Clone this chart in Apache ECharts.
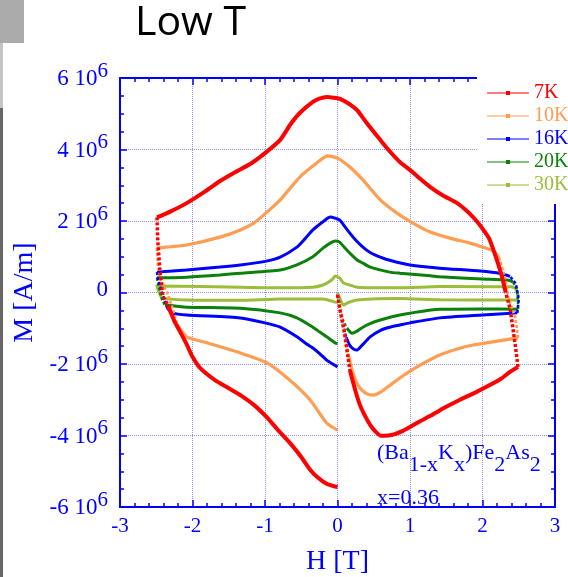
<!DOCTYPE html>
<html><head><meta charset="utf-8">
<script src="https://cdn.jsdelivr.net/npm/echarts@6/dist/echarts.min.js"></script>
<style>html,body{margin:0;padding:0;background:#fff}#c{width:568px;height:577px}</style>
</head><body><div id="c"></div>
<script>
// Field H [T] vs magnetisation M [10^6 A/m]; each loop: virgin 0→+2.5, down to -2.5, back up to 0
const seriesNames = ['7K', '10K', '16K', '20K', '30K'];
const xRange = [-3, 3];
const yRange = [-6, 6]; // units of 10^6 A/m

const m7K = [
[0,-0.07],[0.04,-0.55],[0.09,-1.05],[0.13,-1.6],[0.17,-2.17],[0.24,-2.7],[0.31,-3.15],[0.38,-3.45],[0.45,-3.7],[0.52,-3.88],[0.6,-4.01],[0.7,-4.0],[0.79,-3.96],[0.9,-3.87],[1.0,-3.76],[1.14,-3.6],[1.28,-3.45],[1.48,-3.22],[1.69,-3.0],[1.9,-2.8],[2.1,-2.59],[2.25,-2.42],[2.38,-2.22],[2.49,-2.08],
[2.46,-1.6],[2.43,-1.15],[2.38,-0.45],[2.32,0.0],[2.27,0.43],[2.2,0.9],[2.1,1.47],[2.03,1.7],[1.93,1.97],[1.8,2.25],[1.65,2.5],[1.45,2.72],[1.28,2.95],[1.14,3.18],[1.0,3.43],[0.86,3.65],[0.72,3.95],[0.59,4.27],[0.4,4.75],[0.27,5.1],[0.18,5.25],[0.1,5.35],[0.03,5.42],[-0.05,5.45],[-0.15,5.47],[-0.25,5.42],[-0.34,5.33],[-0.52,5.02],[-0.65,4.7],[-0.79,4.27],[-1.0,3.9],[-1.2,3.6],[-1.4,3.38],[-1.62,3.12],[-1.83,2.82],[-2.08,2.5],[-2.3,2.27],[-2.49,2.1],
[-2.48,1.47],[-2.45,0.63],[-2.41,-0.1],[-2.34,-0.35],[-2.25,-0.8],[-2.17,-1.1],[-2.08,-1.45],[-2.0,-1.8],[-1.9,-2.1],[-1.69,-2.45],[-1.5,-2.68],[-1.34,-2.87],[-1.15,-3.15],[-0.98,-3.48],[-0.82,-3.85],[-0.66,-4.2],[-0.5,-4.6],[-0.38,-4.95],[-0.28,-5.16],[-0.15,-5.35],[-0.05,-5.42],[0,-5.44]
];
const m10K = [
[0,-0.05],[0.05,-0.6],[0.1,-1.2],[0.15,-1.75],[0.22,-2.3],[0.3,-2.65],[0.4,-2.83],[0.5,-2.87],[0.6,-2.78],[0.72,-2.6],[0.86,-2.39],[1.0,-2.2],[1.14,-2.03],[1.41,-1.75],[1.65,-1.58],[1.87,-1.47],[2.2,-1.36],[2.49,-1.27],
[2.47,-0.95],[2.45,-0.68],[2.4,-0.4],[2.35,-0.1],[2.31,0.43],[2.24,0.91],[2.16,1.15],[2.0,1.27],[1.83,1.38],[1.55,1.52],[1.28,1.69],[1.04,1.94],[0.82,2.22],[0.59,2.59],[0.35,3.15],[0.17,3.51],[0.0,3.76],[-0.14,3.82],[-0.3,3.6],[-0.52,3.23],[-0.79,2.59],[-1.0,2.2],[-1.15,1.95],[-1.34,1.75],[-1.62,1.55],[-2.08,1.33],[-2.3,1.28],[-2.49,1.24],
[-2.48,0.8],[-2.45,0.45],[-2.4,0.2],[-2.35,0.0],[-2.28,-0.41],[-2.21,-0.9],[-2.08,-1.24],[-1.85,-1.38],[-1.34,-1.69],[-0.97,-1.97],[-0.66,-2.45],[-0.38,-3.0],[-0.15,-3.65],[0,-3.85]
];
const m16K = [
[0,-0.05],[0.04,-0.55],[0.08,-0.95],[0.12,-1.25],[0.17,-1.48],[0.22,-1.58],[0.27,-1.61],[0.35,-1.45],[0.45,-1.24],[0.6,-1.05],[0.72,-0.97],[0.86,-0.91],[1.0,-0.85],[1.41,-0.71],[2.0,-0.63],[2.48,-0.57],
[2.5,-0.2],[2.46,0.25],[2.38,0.45],[2.25,0.53],[1.97,0.6],[1.41,0.68],[1.0,0.77],[0.72,0.9],[0.59,0.99],[0.45,1.12],[0.35,1.27],[0.25,1.47],[0.17,1.66],[0.08,1.9],[0.03,2.03],[-0.1,2.11],[-0.2,1.98],[-0.34,1.75],[-0.45,1.5],[-0.56,1.27],[-0.79,0.99],[-1.0,0.87],[-1.34,0.77],[-1.62,0.71],[-2.08,0.63],[-2.49,0.57],
[-2.48,0.41],[-2.42,0.0],[-2.35,-0.43],[-2.28,-0.57],[-2.08,-0.63],[-1.34,-0.71],[-1.0,-0.85],[-0.79,-0.97],[-0.56,-1.24],[-0.42,-1.45],[-0.34,-1.55],[-0.25,-1.7],[-0.15,-1.89],[-0.05,-2.02],[0,-2.08]
];
const m20K = [
[0,-0.05],[0.04,-0.5],[0.08,-0.8],[0.13,-1.0],[0.2,-1.14],[0.27,-1.08],[0.35,-0.97],[0.45,-0.87],[0.59,-0.77],[0.86,-0.63],[1.41,-0.47],[2.0,-0.46],[2.49,-0.47],
[2.49,-0.2],[2.47,0.1],[2.42,0.3],[2.34,0.35],[2.0,0.38],[1.41,0.44],[1.28,0.47],[0.86,0.54],[0.72,0.57],[0.45,0.71],[0.35,0.82],[0.27,0.91],[0.17,1.1],[0.1,1.25],[0.03,1.41],[-0.03,1.44],[-0.1,1.38],[-0.2,1.24],[-0.34,1.0],[-0.56,0.77],[-0.79,0.63],[-1.34,0.54],[-1.62,0.49],[-2.08,0.43],[-2.49,0.41],
[-2.47,0.2],[-2.42,-0.21],[-2.38,-0.35],[-2.08,-0.41],[-1.34,-0.44],[-0.79,-0.57],[-0.56,-0.71],[-0.34,-0.97],[-0.25,-1.1],[-0.15,-1.24],[-0.03,-1.41],[0,-1.43]
];
const m30K = [
[0,-0.01],[0.04,-0.2],[0.08,-0.35],[0.15,-0.28],[0.27,-0.21],[0.86,-0.17],[1.41,-0.2],[2.47,-0.21],
[2.49,-0.1],[2.46,0.1],[2.4,0.16],[1.41,0.17],[0.86,0.13],[0.27,0.15],[0.15,0.22],[0.08,0.27],[0.03,0.4],[-0.03,0.46],[-0.08,0.35],[-0.2,0.21],[-0.34,0.15],[-0.79,0.13],[-1.34,0.15],[-2.49,0.18],
[-2.47,0.05],[-2.42,-0.15],[-2.08,-0.21],[-1.34,-0.22],[-0.79,-0.18],[-0.2,-0.18],[-0.03,-0.27],[0,-0.28]
];
const loops = [m7K, m10K, m16K, m20K, m30K];

// styling: sparse (fast-sweep) stretches of each loop drawn dotted, by point index range
const sparseRanges = [
  [[0, 4], [23, 27], [61, 65]],
  [[0, 3], [17, 23], [45, 51]],
  [[0, 3], [15, 18], [41, 44]],
  [[0, 3], [12, 15], [37, 40]],
  []
];
const colors = ['#ff0000', '#ff9d52', '#0000ff', '#0b800b', '#9bbd3a'];
const widths = [4, 3.2, 3, 3, 3];

const BLUE = '#0000ff';
const SERIF = "'Liberation Serif','Times New Roman',serif";
const chart = echarts.init(document.getElementById('c'), null, {renderer: 'canvas'});

function splitLoop(data, ranges) {
  const solid = data.map(p => [p[0], p[1]]);
  const dotted = data.map(p => [p[0], null]);
  ranges.forEach(([a, b]) => {
    for (let i = a; i <= b; i++) {
      dotted[i] = [data[i][0], data[i][1]];
      if (i > a && i < b) solid[i] = [data[i][0], null];
    }
  });
  return {solid, dotted};
}

const series = [];
for (let i = loops.length - 1; i >= 0; i--) {
  const parts = splitLoop(loops[i], sparseRanges[i]);
  const z = 2 + (loops.length - i);
  series.push({
    name: seriesNames[i], type: 'line', data: parts.solid, showSymbol: false, smooth: 0.2,
    connectNulls: false, color: colors[i],
    lineStyle: {width: widths[i], color: colors[i]}, z: z, animation: false
  });
  if (sparseRanges[i].length) {
    series.push({
      name: seriesNames[i], type: 'line', data: parts.dotted, showSymbol: false, smooth: false,
      connectNulls: false, color: colors[i],
      lineStyle: {width: widths[i] - 0.5, color: colors[i], type: [3, 2]}, z: z, animation: false
    });
  }
}

const axisCommon = {
  type: 'value', axisLine: {show: true, onZero: false, lineStyle: {color: BLUE, width: 2}},
  axisTick: {show: true, inside: true, length: 7, lineStyle: {color: BLUE, width: 1.5}},
  minorTick: {show: true, length: 4, lineStyle: {color: BLUE, width: 1.5}},
};

const option = {
  backgroundColor: '#fff',
  animation: false,
  grid: {left: 120, right: 13, top: 78, bottom: 70, containLabel: false, outerBoundsMode: 'none'},
  legend: {
    orient: 'vertical', left: 477, top: 74, padding: [9, 10, 9, 10], backgroundColor: '#fff',
    itemWidth: 42, itemHeight: 4, itemGap: 3,
    icon: 'path://M0,2.5L42,2.5L42,3.5L0,3.5Z M19,1L23,1L23,5L19,5Z',
    textStyle: {fontFamily: SERIF, fontSize: 20, lineHeight: 20},
    data: seriesNames.map((n, i) => ({name: n, textStyle: {color: colors[i]}})),
    selectedMode: false
  },
  xAxis: [
    Object.assign({}, axisCommon, {
      min: xRange[0], max: xRange[1], interval: 1, position: 'bottom',
      minorTick: Object.assign({}, axisCommon.minorTick, {splitNumber: 5}),
      splitLine: {show: true, lineStyle: {color: '#8f8fff', width: 1, type: 'dotted'}},
      axisLabel: {color: BLUE, fontFamily: SERIF, fontSize: 21, margin: 9},
      name: 'H [T]', nameLocation: 'middle', nameGap: 41,
      nameTextStyle: {color: BLUE, fontFamily: SERIF, fontSize: 28}
    }),
    Object.assign({}, axisCommon, {
      min: xRange[0], max: xRange[1], interval: 1, position: 'top',
      minorTick: Object.assign({}, axisCommon.minorTick, {splitNumber: 5}),
      splitLine: {show: false}, axisLabel: {show: false}
    })
  ],
  yAxis: [
    Object.assign({}, axisCommon, {
      min: yRange[0], max: yRange[1], interval: 2, position: 'left',
      minorTick: Object.assign({}, axisCommon.minorTick, {splitNumber: 4}),
      splitLine: {show: true, lineStyle: {color: '#8f8fff', width: 1, type: 'dotted'}},
      axisLabel: {
        color: BLUE, fontFamily: SERIF, fontSize: 23, margin: 12, padding: [0, 0, 5, 0],
        formatter: v => v === 0 ? '{m|0}' : '{m|' + v + ' 10}{s|6}',
        rich: {
          m: {fontFamily: SERIF, fontSize: 23, color: BLUE, verticalAlign: 'bottom'},
          s: {fontFamily: SERIF, fontSize: 21, color: BLUE, verticalAlign: 'bottom', padding: [0, 0, 9, 0]}
        }
      },
      name: 'M [A/m]', nameLocation: 'middle', nameGap: 80,
      nameTextStyle: {color: BLUE, fontFamily: SERIF, fontSize: 28}
    }),
    Object.assign({}, axisCommon, {
      min: yRange[0], max: yRange[1], interval: 2, position: 'right',
      minorTick: Object.assign({}, axisCommon.minorTick, {splitNumber: 4}),
      splitLine: {show: false}, axisLabel: {show: false}
    })
  ],
  graphic: [
    {type: 'rect', left: 0, top: 0, shape: {width: 24, height: 43}, style: {fill: '#ababab'}, z: 10},
    {type: 'rect', left: 0, top: 43, shape: {width: 3, height: 65}, style: {fill: '#c4c4c4'}, z: 10},
    {type: 'rect', left: 0, top: 108, shape: {width: 3, height: 469}, style: {fill: '#676767'}, z: 10},
    {type: 'text', left: 135, top: 3, z: 10,
      style: {text: 'Low T', fill: '#000', font: "41px 'Open Sans', sans-serif"}},
    {type: 'text', left: 377, top: 442, z: 10,
      style: {
        text: '{m|(Ba}{s|1-x}{m|K}{s|x}{m|)Fe}{s|2}{m|As}{s|2}',
        rich: {
          m: {fontFamily: SERIF, fontSize: 22, fill: BLUE, verticalAlign: 'top'},
          s: {fontFamily: SERIF, fontSize: 22, fill: BLUE, verticalAlign: 'top', padding: [12, 0, 0, 0]}
        }
      }},
    {type: 'text', left: 377, top: 487, z: 10,
      style: {text: 'x=0.36', fill: BLUE, font: "22px 'Liberation Serif', serif"}}
  ],
  series: series
};
chart.setOption(option);
</script>
</body></html>
